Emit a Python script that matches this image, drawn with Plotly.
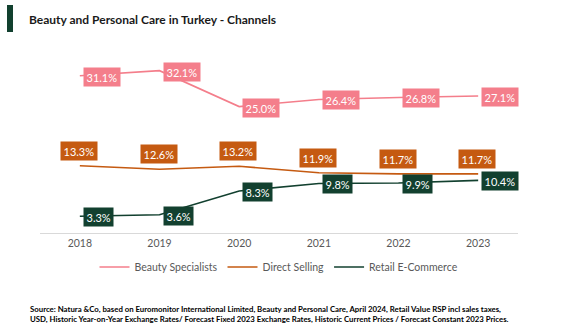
import plotly.graph_objects as go

years = ["2018", "2019", "2020", "2021", "2022", "2023"]
beauty_specialists = [31.1, 32.1, 25.0, 26.4, 26.8, 27.1]
direct_selling = [13.3, 12.6, 13.2, 11.9, 11.7, 11.7]
retail_ecommerce = [3.3, 3.6, 8.3, 9.8, 9.9, 10.4]

series = [
    ("Beauty Specialists", beauty_specialists, "#F47E8B", "right"),
    ("Direct Selling", direct_selling, "#C55A11", "above"),
    ("Retail E-Commerce", retail_ecommerce, "#12402F", "right"),
]

FONT = "Lato"
W, H = 567, 331
ml, mr, mt, mb = 40, 49, 56, 98
pw, ph = W - ml - mr, H - mt - mb

def px_x(p):
    return (p - ml) / pw

def px_y(p):
    return (H - mb - p) / ph

fig = go.Figure()
annotations = []
for name, vals, color, pos in series:
    fig.add_trace(go.Scatter(x=years, y=vals, mode="lines", name=name,
                             line=dict(color=color, width=1.6)))
    for i, yv in enumerate(vals):
        a = dict(x=i, y=yv, xref="x", yref="y", text=f"{yv:.1f}%",
                 showarrow=False, bgcolor=color, borderpad=2.5,
                 font=dict(family=FONT, size=11, color="white"))
        if pos == "right":
            a.update(xanchor="left", yanchor="middle", xshift=3, yshift=-1)
        else:
            a.update(xanchor="center", yanchor="bottom", yshift=5, xshift=-1)
        annotations.append(a)

annotations.append(dict(
    x=px_x(27), y=px_y(19), xref="paper", yref="paper", xanchor="left", yanchor="middle",
    text="<b>Beauty and Personal Care in Turkey - Channels</b>", showarrow=False,
    font=dict(family=FONT, size=12, color="#1a1a1a")))
annotations.append(dict(
    x=px_x(28), y=px_y(314), xref="paper", yref="paper", xanchor="left", yanchor="middle",
    align="left", showarrow=False,
    text="<b>Source: Natura &Co, based on Euromonitor International Limited, Beauty and Personal Care, April 2024, Retail Value RSP incl sales taxes,<br>"
         "USD, Historic Year-on-Year Exchange Rates/ Forecast Fixed 2023 Exchange Rates, Historic Current Prices / Forecast Constant 2023 Prices.</b>",
    font=dict(family=FONT, size=7.8, color="#000000")))

fig.update_layout(
    width=W, height=H,
    margin=dict(l=ml, r=mr, t=mt, b=mb),
    paper_bgcolor="white", plot_bgcolor="white",
    showlegend=True,
    legend=dict(orientation="h", x=0.5, xanchor="center", y=px_y(267), yanchor="middle",
                font=dict(family=FONT, size=10.5, color="#595959"),
                itemwidth=30, tracegroupgap=0),
    annotations=annotations,
    shapes=[dict(type="rect", xref="paper", yref="paper",
                 x0=px_x(7), x1=px_x(13), y0=px_y(32), y1=px_y(5),
                 fillcolor="#12402F", line=dict(width=0))],
    xaxis=dict(type="category", range=[-0.5, 5.5], showgrid=False, zeroline=False,
               showline=True, linecolor="#D9D9D9", linewidth=1, ticks="",
               tickfont=dict(family=FONT, size=10.5, color="#595959")),
    yaxis=dict(range=[0, 35], visible=False, showgrid=False, zeroline=False),
)

fig.write_html("out.html")
